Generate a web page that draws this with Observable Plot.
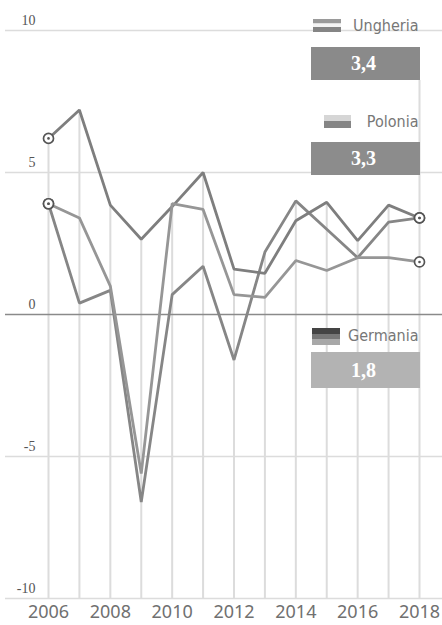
<!DOCTYPE html>
<html><head><meta charset="utf-8">
<script src="https://cdn.jsdelivr.net/npm/d3@7"></script>
<script src="https://cdn.jsdelivr.net/npm/@observablehq/plot@0.6"></script>
<style>body{margin:0;background:#fff}</style>
</head><body><div id="chart"></div>
<script>
const years = [2006, 2007, 2008, 2009, 2010, 2011, 2012, 2013, 2014, 2015, 2016, 2017, 2018];
const seriesNames = ["Ungheria", "Polonia", "Germania"];
const ungheria = [3.9, 0.4, 0.85, -6.6, 0.7, 1.7, -1.6, 2.2, 4.0, 3.0, 2.0, 3.25, 3.4];
const polonia  = [6.2, 7.2, 3.85, 2.65, 3.8, 5.0, 1.6, 1.45, 3.3, 3.95, 2.6, 3.85, 3.4];
const germania = [3.9, 3.4, 1.0, -5.6, 3.9, 3.7, 0.7, 0.6, 1.9, 1.55, 2.0, 2.0, 1.85];
const lastValueLabels = ["3,4", "3,3", "1,8"];
const xTicks = [2006, 2008, 2010, 2012, 2014, 2016, 2018];
const yTicks = [10, 5, 0, -5, -10];

const valuesBySeries = [ungheria, polonia, germania];
const table = seriesNames.flatMap((name, i) => years.map((year, j) => ({name, year, value: valuesBySeries[i][j]})));
const firstYear = years[0], lastYear = years[years.length - 1];
const ends = table.filter(d => d.year === firstYear || d.year === lastYear);

// layout helpers (pixel -> data units, matching the scales below)
const W = 442, H = 625, mL = 48, mR = 23, mT = 30, mB = 27;
const kx = (W - mL - mR) / (lastYear - firstYear);
const ky = (H - mT - mB) / 20;
const xv = px => firstYear + (px - mL) / kx;
const yv = px => 10 - (px - mT) / ky;

const legend = [
  {name: "Ungheria", label: lastValueLabels[0], textY: 25, box: [47, 80], fill: "#8a8a8a",
   swatch: {x: [313, 341], stripes: [[19, 23.5, "#9a9a9a"], [23.5, 27, "#f4f4f4"], [27, 32, "#858585"]]}},
  {name: "Polonia", label: lastValueLabels[1], textY: 121, box: [142, 175], fill: "#8c8c8c",
   swatch: {x: [324, 351], stripes: [[115, 121, "#d6d6d6"], [121, 128, "#858585"]]}},
  {name: "Germania", label: lastValueLabels[2], textY: 335, box: [352, 388], fill: "#b3b3b3",
   swatch: {x: [312, 340], stripes: [[328, 334, "#444"], [334, 339, "#777"], [339, 345, "#a8a8a8"]]}}
];
const swatchRects = legend.flatMap(l => l.swatch.stripes.map(s => ({x1: xv(l.swatch.x[0]), x2: xv(l.swatch.x[1]), y1: yv(s[0]), y2: yv(s[1]), fill: s[2]})));
const boxes = legend.map(l => ({x1: xv(311), x2: xv(420), y1: yv(l.box[0]), y2: yv(l.box[1]), fill: l.fill, label: l.label, name: l.name, textY: yv(l.textY)}));

const yearTops = years.map((year, j) => ({year, top: j === years.length - 1 ? yv(80) : Math.max(...valuesBySeries.map(s => s[j]))}));
const lineColors = {"Ungheria": "#868686", "Polonia": "#7e7e7e", "Germania": "#969696"};

const chart = Plot.plot({
  width: W, height: H,
  marginLeft: mL, marginRight: mR, marginTop: mT, marginBottom: mB,
  x: {domain: [firstYear, lastYear]},
  y: {domain: [-10, 10]},
  style: {background: "#fff", overflow: "visible"},
  marks: [
    Plot.ruleY(yTicks.filter(d => d !== 0), {y: d => d, x1: xv(5), x2: xv(442), stroke: "#dcdcdc", strokeWidth: 1.5}),
    Plot.ruleX(yearTops, {x: "year", y1: "top", y2: -10, stroke: "#dcdcdc", strokeWidth: 2}),
    Plot.ruleY([0], {x1: xv(5), x2: xv(442), stroke: "#8a8a8a", strokeWidth: 1.5}),
    Plot.axisX(xTicks, {tickSize: 0, tickPadding: 7, tickFormat: d => String(d), fontSize: 18, fill: "#707070", fontFamily: "Noto Sans, DejaVu Sans, sans-serif", label: null}),
    Plot.axisY(yTicks, {tickSize: 0, tickPadding: 13, dy: -10, tickFormat: d => (d < 0 ? "-" + Math.abs(d) : String(d)), fontSize: 14, fill: "#555", fontFamily: "Liberation Serif, DejaVu Serif, serif", label: null}),
    Plot.line(table, {x: "year", y: "value", z: "name", stroke: d => lineColors[d.name], strokeWidth: 2.8, strokeLinejoin: "miter"}),
    Plot.dot(ends, {x: "year", y: "value", r: 5, fill: "#fff", stroke: "#555", strokeWidth: 1.7}),
    Plot.dot(ends, {x: "year", y: "value", r: 1.3, fill: "#555"}),
    Plot.rect(boxes, {x1: "x1", x2: "x2", y1: "y1", y2: "y2", fill: "fill"}),
    Plot.text(boxes, {x: xv(363), y: d => (d.y1 + d.y2) / 2, text: "label", fill: "#fff", fontSize: 20, fontWeight: "bold", fontFamily: "Liberation Serif, DejaVu Serif, serif"}),
    Plot.rect(swatchRects, {x1: "x1", x2: "x2", y1: "y1", y2: "y2", fill: "fill"}),
    Plot.text(boxes, {x: xv(418), y: "textY", text: "name", textAnchor: "end", fill: "#777", fontSize: 16, fontFamily: "DejaVu Sans Condensed, Liberation Sans Narrow, sans-serif"})
  ]
});
document.getElementById("chart").appendChild(chart);
</script>
</body></html>
